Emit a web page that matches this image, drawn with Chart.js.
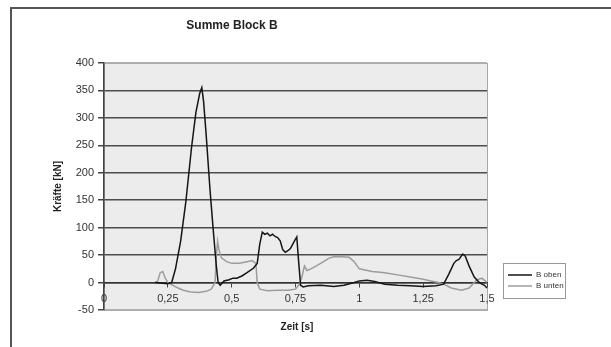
<!DOCTYPE html>
<html><head><meta charset="utf-8">
<script src="https://cdn.jsdelivr.net/npm/chart.js@4"></script>
<style>html,body{margin:0;padding:0;background:#fff}#wrap{width:611px;height:347px;position:relative}</style>
</head><body><div id="wrap"><canvas id="c" width="611" height="347"></canvas></div>
<script>
const chartTitle = "Summe Block B";
const xTitle = "Zeit [s]";
const yTitle = "Kräfte [kN]";
const seriesNames = ["B oben", "B unten"];

const timeOben  = [0.20,0.25,0.265,0.28,0.30,0.32,0.343,0.36,0.375,0.383,0.39,0.40,0.415,0.427,0.44,0.447,0.455,0.47,0.49,0.505,0.52,0.54,0.56,0.585,0.60,0.61,0.62,0.63,0.64,0.65,0.66,0.67,0.68,0.69,0.70,0.71,0.72,0.73,0.745,0.755,0.762,0.77,0.78,0.80,0.85,0.90,0.94,0.98,1.00,1.03,1.06,1.10,1.15,1.20,1.25,1.30,1.33,1.35,1.37,1.38,1.39,1.405,1.415,1.43,1.45,1.47,1.49,1.50];
const kraftOben = [0,-2,0,25,75,145,247,310,345,355,330,270,170,100,30,0,-5,3,5,8,8,12,18,26,35,70,92,88,90,85,88,84,82,76,60,55,58,62,75,83,40,-5,-8,-6,-5,-7,-5,0,3,4,2,-3,-5,-6,-7,-6,-3,15,35,40,42,52,48,30,10,0,-5,-10];

const timeUnten  = [0.20,0.21,0.22,0.23,0.24,0.25,0.27,0.29,0.31,0.34,0.37,0.40,0.42,0.435,0.44,0.445,0.45,0.46,0.48,0.50,0.53,0.56,0.58,0.595,0.60,0.61,0.64,0.68,0.72,0.75,0.765,0.775,0.785,0.795,0.81,0.83,0.86,0.88,0.90,0.93,0.96,0.98,1.00,1.05,1.10,1.15,1.20,1.25,1.28,1.31,1.33,1.36,1.40,1.43,1.46,1.48,1.50];
const kraftUnten = [0,2,18,20,8,0,-5,-10,-14,-17,-18,-16,-12,0,50,75,60,45,38,35,35,38,40,35,0,-12,-15,-14,-14,-12,-3,10,30,22,25,30,38,44,47,47,46,38,25,20,18,14,10,6,3,0,-3,-10,-14,-10,5,8,0];

const yMin = -50, yMax = 400, yStep = 50;
const xMin = 0, xMax = 1.5, xStep = 0.25;

const toPoints = (xs, ys) => xs.map((x, i) => ({x: x, y: ys[i]}));

const decor = {
  id: 'decor',
  beforeDraw(chart) {
    const ctx = chart.ctx, a = chart.chartArea;
    ctx.save();
    ctx.fillStyle = '#fff';
    ctx.fillRect(0, 0, chart.width, chart.height);
    ctx.strokeStyle = '#555';
    ctx.lineWidth = 2;
    ctx.beginPath();
    ctx.moveTo(11, chart.height + 2);
    ctx.lineTo(11, 8);
    ctx.lineTo(chart.width + 2, 8);
    ctx.stroke();
    ctx.fillStyle = '#ececec';
    ctx.fillRect(a.left, a.top, a.right - a.left, a.bottom - a.top);
    ctx.strokeStyle = '#a8a8a8';
    ctx.lineWidth = 1;
    ctx.strokeRect(a.left + 0.5, a.top + 0.5, a.right - a.left, a.bottom - a.top);
    ctx.restore();
  },
  afterDraw(chart) {
    const ctx = chart.ctx, a = chart.chartArea;
    ctx.save();
    ctx.fillStyle = '#222';
    ctx.textAlign = 'center';
    ctx.textBaseline = 'middle';
    ctx.font = 'bold 12px "Liberation Sans", Arial, sans-serif';
    ctx.fillText(chartTitle, 232, 26);
    ctx.font = 'bold 10px "Liberation Sans", Arial, sans-serif';
    ctx.fillText(xTitle, 297, 327);
    ctx.translate(58, (a.top + a.bottom) / 2);
    ctx.rotate(-Math.PI / 2);
    ctx.fillText(yTitle, 0, 0);
    ctx.restore();

    // legend
    ctx.save();
    const lx = 503, ly = 263, lw = 62, lh = 35;
    ctx.strokeStyle = '#999';
    ctx.lineWidth = 1;
    ctx.strokeRect(lx + 0.5, ly + 0.5, lw, lh);
    ctx.font = '8px "Liberation Sans", Arial, sans-serif';
    ctx.textBaseline = 'middle';
    ctx.textAlign = 'left';
    chart.data.datasets.forEach((ds, i) => {
      const yy = ly + 12 + i * 11;
      ctx.strokeStyle = ds.borderColor;
      ctx.lineWidth = 1.5;
      ctx.beginPath();
      ctx.moveTo(lx + 5, yy);
      ctx.lineTo(lx + 29, yy);
      ctx.stroke();
      ctx.fillStyle = '#333';
      ctx.fillText(ds.label, lx + 33, yy);
    });
    ctx.restore();
  }
};

new Chart(document.getElementById('c'), {
  type: 'line',
  data: {
    datasets: [
      {label: seriesNames[0], data: toPoints(timeOben, kraftOben), borderColor: '#151515', borderWidth: 1.5, pointRadius: 0, tension: 0},
      {label: seriesNames[1], data: toPoints(timeUnten, kraftUnten), borderColor: '#9c9c9c', borderWidth: 1.5, pointRadius: 0, tension: 0}
    ]
  },
  options: {
    responsive: false,
    animation: false,
    devicePixelRatio: 1,
    layout: {padding: {left: 20, right: 124, top: 63, bottom: 37}},
    plugins: {legend: {display: false}, title: {display: false}, tooltip: {enabled: false}},
    scales: {
      x: {
        type: 'linear', min: xMin, max: xMax,
        position: {y: 0},
        ticks: {stepSize: xStep, color: '#333', font: {size: 11, family: '"Liberation Sans", Arial, sans-serif'}, padding: 6,
          callback: v => String(v).replace('.', ',')},
        grid: {drawOnChartArea: false, drawTicks: true, tickLength: 4, color: '#444'},
        border: {color: '#333', width: 1.5}
      },
      y: {
        min: yMin, max: yMax,
        ticks: {stepSize: yStep, color: '#333', font: {size: 11, family: '"Liberation Sans", Arial, sans-serif'}, padding: 4},
        grid: {
          color: c => (c.tick && (c.tick.value === yMax || c.tick.value === yMin)) ? '#b0b0b0' : '#4d4d4d',
          lineWidth: 1.5, tickLength: 6, tickColor: '#444'
        },
        border: {color: '#444', width: 1.5},
        afterFit: s => { s.width = 84; }
      }
    }
  },
  plugins: [decor]
});
</script>
</body></html>
